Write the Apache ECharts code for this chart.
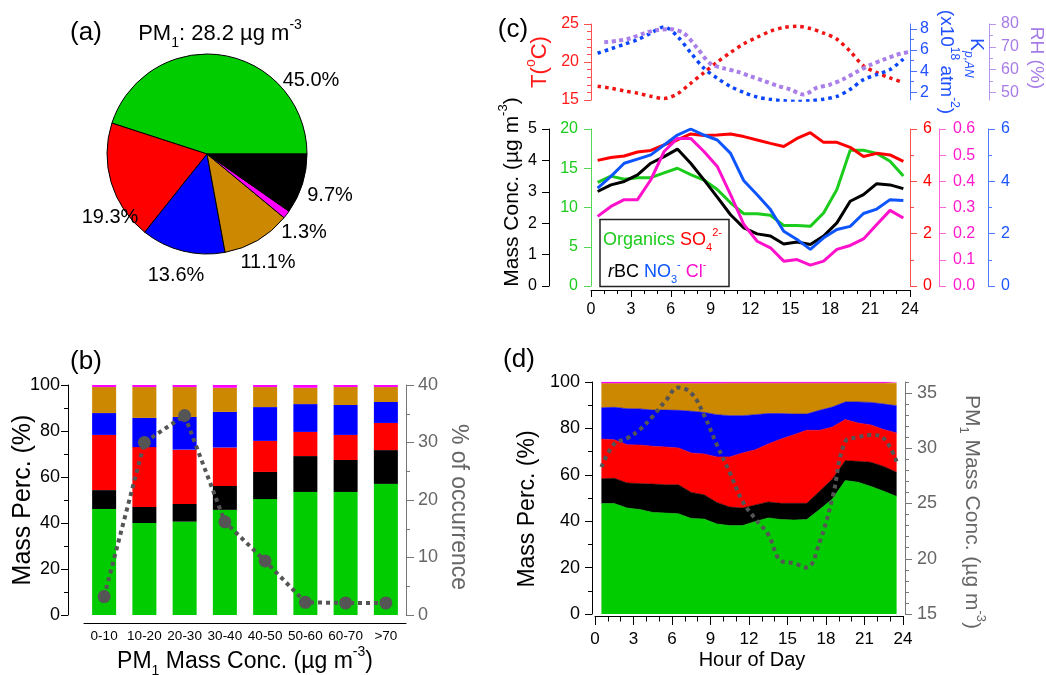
<!DOCTYPE html>
<html>
<head>
<meta charset="utf-8">
<title>PM1 composition and diurnal cycles</title>
<script src="https://cdn.jsdelivr.net/npm/echarts@6.0.0/dist/echarts.min.js"></script>
<style>
  html, body { margin: 0; padding: 0; background: #fff; }
  #chart { width: 1046px; height: 675px; }
</style>
</head>
<body>
<div id="chart"></div>
<script>
// (a) mean composition
const pm1Mean = 28.2
const pieSpecies = ['Organics', 'SO4', 'NO3', 'NH4', 'Cl', 'rBC']
const pieShare = [45.0, 19.3, 13.6, 11.1, 1.3, 9.7]

// (b) composition (%) per PM1 bin and frequency of occurrence
const pmBins = ['0-10', '10-20', '20-30', '30-40', '40-50', '50-60', '60-70', '>70']
const binOrg = [46.1, 40.0, 40.6, 45.7, 50.4, 53.5, 53.5, 57.0]
const binBC = [8.2, 7.0, 7.7, 10.4, 11.8, 15.6, 13.9, 14.7]
const binSO4 = [24.0, 26.0, 23.6, 16.7, 13.5, 10.5, 10.9, 11.8]
const binNO3 = [9.5, 12.7, 14.2, 15.5, 14.7, 12.1, 13.0, 9.1]
const binNH4 = [11.3, 13.4, 13.0, 10.5, 8.7, 7.1, 7.8, 6.5]
const binCl = [0.9, 1.3, 0.9, 1.2, 0.9, 1.6, 0.9, 0.9]
const binOccur = [3.2, 30.0, 34.7, 16.2, 9.4, 2.2, 2.1, 2.1]

// (c) diurnal cycles
const hours = [0.5, 1.5, 2.5, 3.5, 4.5, 5.5, 6.5, 7.5, 8.5, 9.5, 10.5, 11.5,
  12.5, 13.5, 14.5, 15.5, 16.5, 17.5, 18.5, 19.5, 20.5, 21.5, 22.5, 23.5]
const rhHours = [1, 2, 3, 4, 5, 6, 7, 8, 9, 10, 11, 12, 13, 14, 15, 16, 17, 18, 19, 20, 21, 22, 23, 24]
const tempC = [16.8, 16.55, 16.2, 15.9, 15.5, 15.2, 15.8, 17.2, 18.6, 20.0, 21.25, 22.4,
  23.25, 24.05, 24.55, 24.7, 24.4, 23.8, 23.0, 21.4, 19.5, 18.6, 17.9, 17.3]
const kpAN = [5.70, 6.12, 6.55, 6.98, 7.60, 8.20, 7.30, 5.75, 4.27, 3.33, 2.55, 1.98,
  1.55, 1.33, 1.20, 1.12, 1.20, 1.35, 1.62, 2.28, 3.20, 3.68, 4.15, 5.15]
const rh = [72.0, 72.6, 73.8, 75.9, 77.4, 77.7, 75.9, 69.3, 62.5, 60.5, 59.1, 57.0,
  55.0, 52.9, 51.2, 49.0, 52.0, 53.4, 55.8, 59.0, 62.0, 64.3, 66.5, 67.8]
const orgConc = [13.2, 14.0, 13.6, 13.8, 13.8, 14.4, 15.0, 14.2, 13.5, 12.3, 10.6, 9.2,
  9.2, 9.0, 7.7, 7.7, 7.6, 9.3, 12.3, 17.3, 17.3, 16.9, 15.9, 14.0]
const so4Conc = [4.80, 4.91, 4.97, 5.12, 5.18, 5.39, 5.58, 5.81, 5.75, 5.77, 5.81, 5.71,
  5.58, 5.45, 5.33, 5.64, 5.86, 5.49, 5.49, 5.30, 4.95, 5.07, 5.01, 4.76]
const bcConc = [3.01, 3.22, 3.33, 3.54, 3.91, 4.12, 4.36, 3.91, 3.38, 2.83, 2.27, 1.85,
  1.66, 1.59, 1.34, 1.40, 1.32, 1.59, 2.01, 2.70, 2.91, 3.26, 3.22, 3.10]
const no3Conc = [3.74, 4.19, 4.69, 4.85, 5.01, 5.39, 5.77, 6.00, 5.77, 5.58, 5.07, 4.02,
  3.49, 2.92, 2.09, 1.78, 1.40, 1.84, 2.16, 2.28, 2.77, 2.94, 3.30, 3.27]
const clConc = [0.266, 0.304, 0.330, 0.330, 0.406, 0.514, 0.564, 0.564, 0.514, 0.457, 0.349, 0.235,
  0.171, 0.146, 0.095, 0.101, 0.080, 0.095, 0.140, 0.155, 0.180, 0.235, 0.289, 0.260]

// (d) diurnal mass fractions (%) and PM1
const hOrg = [47.6, 47.6, 45.7, 45.0, 43.8, 43.5, 43.2, 41.2, 40.9, 38.8, 38.1, 38.1,
  39.9, 41.4, 40.7, 40.5, 40.7, 45.0, 49.6, 57.5, 56.8, 55.0, 52.9, 50.7]
const hBC = [10.7, 10.9, 10.8, 11.2, 12.2, 12.2, 12.5, 11.2, 10.5, 9.3, 8.0, 7.6,
  7.1, 6.9, 7.0, 7.2, 7.0, 7.9, 8.6, 8.6, 9.0, 10.4, 10.7, 10.4]
const hSO4 = [17.1, 16.6, 16.5, 16.6, 16.3, 16.3, 15.9, 17.0, 17.6, 19.6, 21.6, 23.7,
  23.8, 25.0, 27.7, 29.6, 31.5, 26.3, 22.4, 17.7, 16.5, 16.1, 15.9, 16.9]
const hNO3 = [13.5, 14.0, 15.5, 15.6, 15.6, 15.9, 16.2, 18.0, 17.9, 18.2, 17.8, 16.1,
  15.1, 13.1, 11.0, 8.9, 7.0, 8.6, 8.6, 7.6, 9.1, 9.7, 11.0, 11.8]
const hNH4 = [10.4, 10.2, 10.8, 10.9, 11.4, 11.4, 11.5, 12.0, 12.5, 13.5, 14.0, 14.0,
  13.6, 13.1, 13.1, 13.3, 13.3, 11.7, 10.3, 8.1, 8.1, 8.3, 9.0, 9.7]
const hCl = [0.7, 0.7, 0.7, 0.7, 0.7, 0.7, 0.7, 0.6, 0.6, 0.6, 0.5, 0.5,
  0.5, 0.5, 0.5, 0.5, 0.5, 0.5, 0.5, 0.5, 0.5, 0.5, 0.5, 0.5]
const hPM1 = [28.3, 30.4, 30.9, 31.7, 32.9, 34.3, 35.5, 35.0, 33.0, 30.3, 27.8, 25.2,
  23.6, 22.2, 19.8, 19.6, 19.2, 21.5, 25.5, 30.6, 31.0, 31.2, 30.9, 28.8]

const FF = 'Liberation Sans, Arial, Helvetica, sans-serif'
const col = { Organics: '#00cc00', SO4: '#ff0000', NO3: '#0000ff', NH4: '#cc8800', Cl: '#ff00ff', rBC: '#000000' }
const grey = '#555555'
const pieLabelAt = [[311, 80], [110, 217], [176, 275], [268, 262], [304, 232], [330, 195]]

const pts = (xs, ys) => xs.map((x, i) => [x, ys[i]])

const chart = echarts.init(document.getElementById('chart'), null, { renderer: 'canvas' })

// value axis helper, Igor-like outward ticks
function vAxis(grid, o) {
  const c = o.color || '#000'
  const lc = o.lineColor || c
  return {
    type: 'value', gridIndex: grid, min: o.min, max: o.max, interval: o.interval,
    position: o.pos || 'left', offset: o.offset || 0, show: o.show !== false,
    splitLine: { show: false },
    axisLine: { show: o.line !== false, onZero: false, lineStyle: { color: lc, width: 1 } },
    axisTick: { show: true, length: o.tick || 7, lineStyle: { color: lc }, customValues: o.ticks },
    minorTick: { show: !!o.minor, splitNumber: o.minor || 5, length: 4, lineStyle: { color: lc } },
    axisLabel: {
      show: o.label !== false, color: c, fontSize: o.fs || 16, fontFamily: FF,
      margin: o.margin || 10, customValues: o.labels, formatter: o.fmt
    }
  }
}

function hourAxis(grid, o) {
  return {
    type: 'value', gridIndex: grid, min: 0, max: 24, interval: 3, offset: o.offset,
    splitLine: { show: false },
    axisLine: { onZero: false, lineStyle: { color: '#000' } },
    axisTick: { length: o.tick || 7, lineStyle: { color: '#000' } },
    minorTick: { show: true, splitNumber: 3, length: o.minorLen || 4, lineStyle: { color: '#000' } },
    axisLabel: { fontSize: o.fs, fontFamily: FF, color: '#000', margin: o.margin }
  }
}

const yAxes = []
const Y = o => yAxes.push(o) - 1
const yBL = Y(vAxis(0, { min: 0, max: 100, interval: 20, minor: 2, offset: 16, fs: 18, margin: 8 }))
const yBR = Y(vAxis(0, { min: 0, max: 40, interval: 10, minor: 2, pos: 'right', fs: 18, color: '#666', lineColor: '#777', margin: 12, tick: 8 }))
const yT = Y(vAxis(1, { min: 15, max: 25, interval: 5, minor: 5, color: '#ff1a1a', lineColor: '#ff5050', margin: 12 }))
const yKp = Y(vAxis(1, { min: 1.27, max: 8.47, pos: 'right', ticks: [2, 4, 6, 8], labels: [2, 4, 6, 8], color: '#1f4fff', lineColor: '#4a74ff', margin: 10 }))
Y(vAxis(1, { min: 1.27, max: 8.47, pos: 'right', ticks: [3, 5, 7], tick: 4, line: false, label: false, lineColor: '#4a74ff' }))
const yRH = Y(vAxis(1, { min: 46.6, max: 80, pos: 'right', offset: 79, ticks: [50, 60, 70, 80], labels: [50, 60, 70, 80], color: '#a77be6', lineColor: '#b895ee', margin: 12 }))
Y(vAxis(1, { min: 46.6, max: 80, pos: 'right', offset: 79, ticks: [55, 65, 75], tick: 4, line: false, label: false, lineColor: '#b895ee' }))
const yOrg = Y(vAxis(2, { min: 0, max: 20, interval: 5, color: '#1ccc1c', lineColor: '#55d855', margin: 13 }))
const yBC = Y(vAxis(2, { min: 0, max: 5, interval: 1, offset: 42, margin: 12 }))
const ySO4 = Y(vAxis(2, { min: 0, max: 6, interval: 2, minor: 2, pos: 'right', color: '#ff0000', lineColor: '#ff5050', margin: 13 }))
const yCl = Y(vAxis(2, { min: 0, max: 0.6, interval: 0.1, pos: 'right', offset: 29, color: '#ff1acb', lineColor: '#ff66da', margin: 14, fmt: v => v.toFixed(1) }))
const yNO3 = Y(vAxis(2, { min: 0, max: 6, interval: 2, minor: 2, pos: 'right', offset: 78, color: '#1a56ff', lineColor: '#4d7cff', margin: 13 }))
const yDL = Y(vAxis(3, { min: 0, max: 100, interval: 20, minor: 2, offset: 3, fs: 18, margin: 12 }))
const yDR = Y(vAxis(3, { min: 15, max: 36, pos: 'right', offset: 2, ticks: [15, 20, 25, 30, 35], labels: [15, 20, 25, 30, 35], fs: 18, color: '#666', lineColor: '#777', margin: 12 }))
Y(vAxis(3, { min: 15, max: 36, interval: 1, pos: 'right', offset: 2, tick: 4, line: false, label: false, lineColor: '#777' }))
// hidden axis for the stacked areas of (d), spanning the 0.5 .. 23.5 h samples
const yDA = Y(vAxis(4, { min: 0, max: 100, show: false }))

const xAxes = [
  {
    type: 'category', gridIndex: 0, data: pmBins, offset: 8,
    splitLine: { show: false },
    axisLine: { onZero: false, lineStyle: { color: '#000' } },
    axisTick: { length: 7, interval: 0, alignWithLabel: false, lineStyle: { color: '#000' } },
    axisLabel: { interval: 0, fontSize: 13.5, fontFamily: FF, color: '#000', margin: 6 }
  },
  { type: 'value', gridIndex: 1, min: 0, max: 24, show: false },
  hourAxis(2, { offset: 4, fs: 16, margin: 12 }),
  hourAxis(3, { offset: 2, fs: 17, margin: 15, tick: 9, minorLen: 5.5 }),
  { type: 'category', gridIndex: 4, data: hours, boundaryGap: false, show: false }
]

const series = []

// (a)
series.push({
  type: 'pie', center: [207, 154], radius: 100, startAngle: 0, clockwise: false,
  avoidLabelOverlap: false, silent: true,
  data: pieSpecies.map((n, i) => ({ name: n, value: pieShare[i], itemStyle: { color: col[n] } })),
  itemStyle: { borderColor: '#000', borderWidth: 1 },
  label: { position: 'outside', formatter: p => p.value.toFixed(1) + '%', fontSize: 20, fontFamily: FF, color: '#000' },
  labelLine: { show: false },
  labelLayout: p => ({ x: pieLabelAt[p.dataIndex][0], y: pieLabelAt[p.dataIndex][1], align: 'center', verticalAlign: 'middle' }),
  emphasis: { disabled: true }
})

// (b)
const binStack = [['Organics', binOrg], ['rBC', binBC], ['SO4', binSO4], ['NO3', binNO3], ['NH4', binNH4], ['Cl', binCl]]
binStack.forEach(([name, vals]) => {
  series.push({
    type: 'bar', name, xAxisIndex: 0, yAxisIndex: yBL, stack: 'bin', barWidth: 24,
    data: vals, itemStyle: { color: col[name] }, silent: true
  })
})
series.push({
  type: 'line', name: 'occurrence', xAxisIndex: 0, yAxisIndex: yBR, data: binOccur, z: 5,
  symbol: 'circle', symbolSize: 13, itemStyle: { color: grey },
  lineStyle: { color: grey, width: 4, type: [4, 4] }, silent: true
})

// (c) meteorology
const dotted = (name, xs, ys, yi, color, w, dash) => ({
  type: 'line', name, xAxisIndex: 1, yAxisIndex: yi, data: pts(xs, ys),
  showSymbol: false, symbol: 'none', smooth: 0.3, silent: true,
  lineStyle: { color, width: w, type: dash }
})
series.push(dotted('T', hours, tempC, yT, '#f01414', 3.5, [3.5, 4]))
series.push(dotted('Kp,AN', hours, kpAN, yKp, '#0b46ff', 3.5, [3.5, 4]))
series.push(dotted('RH', rhHours, rh, yRH, '#a97fe8', 4, [4, 3.5]))

// (c) species
const solid = (name, ys, yi, color) => ({
  type: 'line', name, xAxisIndex: 2, yAxisIndex: yi, data: pts(hours, ys),
  showSymbol: false, symbol: 'none', silent: true,
  lineStyle: { color, width: 3 }
})
series.push(solid('Organics', orgConc, yOrg, '#1ccc1c'))
series.push(solid('SO4', so4Conc, ySO4, '#ff0000'))
series.push(solid('rBC', bcConc, yBC, '#000000'))
series.push(solid('NO3', no3Conc, yNO3, '#0d55ff'))
series.push(solid('Cl', clConc, yCl, '#ff11cc'))

// (d)
const hourStack = [['Organics', hOrg], ['rBC', hBC], ['SO4', hSO4], ['NO3', hNO3], ['NH4', hNH4], ['Cl', hCl]]
hourStack.forEach(([name, vals]) => {
  series.push({
    type: 'line', name, xAxisIndex: 4, yAxisIndex: yDA, stack: 'hour', data: vals,
    showSymbol: false, symbol: 'none', silent: true,
    lineStyle: { width: 0.6, color: col[name] }, areaStyle: { color: col[name], opacity: 1 }
  })
})
series.push({
  type: 'line', name: 'PM1', xAxisIndex: 3, yAxisIndex: yDR, data: pts(hours, hPM1), z: 5,
  showSymbol: false, symbol: 'none', smooth: 0.4, silent: true,
  lineStyle: { color: grey, width: 4, type: [4, 4] }
})

// text helpers (rich text for sub/superscripts)
function richFor(size, color) {
  const s = Math.round(size * 0.62)
  return {
    sub: { fontSize: s, fontFamily: FF, fill: color, verticalAlign: 'bottom', lineHeight: s },
    subi: { fontSize: s, fontFamily: FF, fill: color, fontStyle: 'italic', verticalAlign: 'bottom', lineHeight: s },
    sup: { fontSize: s, fontFamily: FF, fill: color, verticalAlign: 'top', lineHeight: s }
  }
}
function txt(x, y, text, size, color, rot, extra) {
  return {
    type: 'text', x, y, rotation: rot || 0, z: 100, silent: true,
    style: Object.assign({
      text, fill: color, fontSize: size, fontFamily: FF, lineHeight: Math.round(size * 1.45),
      align: 'center', verticalAlign: 'middle', rich: richFor(size, color)
    }, extra || {})
  }
}

const lgSize = 18
const lgRich = {}
;[['g', '#1ccc1c'], ['r', '#ff0000'], ['k', '#000000'], ['b', '#0d55ff'], ['m', '#ff11cc']].forEach(([k, c]) => {
  const s = Math.round(lgSize * 0.62)
  lgRich[k] = { fontSize: lgSize, fontFamily: FF, fill: c, lineHeight: 26 }
  lgRich[k + 'i'] = { fontSize: lgSize, fontFamily: FF, fill: c, fontStyle: 'italic', lineHeight: 26 }
  lgRich[k + 'sub'] = { fontSize: s, fontFamily: FF, fill: c, verticalAlign: 'bottom', lineHeight: s }
  lgRich[k + 'sup'] = { fontSize: s, fontFamily: FF, fill: c, verticalAlign: 'top', lineHeight: s }
})

const graphic = [
  txt(86, 33, '(a)', 26, '#000'),
  txt(86, 362, '(b)', 26, '#000'),
  txt(513, 30, '(c)', 26, '#000'),
  txt(519, 360, '(d)', 26, '#000'),
  txt(220, 34, 'PM{sub|1}: ' + pm1Mean.toFixed(1) + ' µg m{sup|-3}', 22, '#000'),
  txt(23, 500, 'Mass Perc. (%)', 25, '#000', Math.PI / 2),
  txt(458, 507, '% of occurrence', 23, '#666', -Math.PI / 2),
  txt(245, 662, 'PM{sub|1} Mass Conc. (µg m{sup|-3})', 23, '#000'),
  txt(540, 62, 'T({sup|o}C)', 22, '#ff1a1a', Math.PI / 2),
  txt(976, 58, 'K{subi|p,AN}', 19, '#1f4fff', -Math.PI / 2),
  txt(946, 62, '(x10{sup|18} atm{sup|-2})', 19, '#1f4fff', -Math.PI / 2),
  txt(1036, 58, 'RH (%)', 19, '#a77be6', -Math.PI / 2),
  txt(512, 192, 'Mass Conc. (µg m{sup|-3})', 21, '#000', Math.PI / 2),
  txt(528, 509, 'Mass Perc. (%)', 23, '#000', Math.PI / 2),
  txt(972, 512, 'PM{sub|1} Mass Conc. (µg m{sup|-3})', 21, '#666', -Math.PI / 2),
  txt(752, 660, 'Hour of Day', 20, '#000'),
  {
    type: 'rect', z: 90, silent: true,
    shape: { x: 600, y: 219.5, width: 129, height: 67 },
    style: { fill: '#fff', stroke: '#222', lineWidth: 1.5 }
  },
  {
    type: 'text', x: 603, y: 240, z: 100, silent: true,
    style: {
      text: '{g|Organics} {r|SO}{rsub|4}{rsup|2-}', align: 'left', verticalAlign: 'middle',
      fontSize: lgSize, fontFamily: FF, lineHeight: 26, rich: lgRich
    }
  },
  {
    type: 'text', x: 608, y: 272, z: 100, silent: true,
    style: {
      text: '{ki|r}{k|BC} {b|NO}{bsub|3}{bsup|-} {m|Cl}{msup|-}', align: 'left', verticalAlign: 'middle',
      fontSize: lgSize, fontFamily: FF, lineHeight: 26, rich: lgRich
    }
  }
]

const option = {
  animation: false,
  backgroundColor: '#fff',
  grid: [
    { left: 84, top: 385, width: 322, height: 230 },
    { left: 591, top: 24, width: 319, height: 76 },
    { left: 591, top: 129, width: 319, height: 157 },
    { left: 595, top: 382, width: 308, height: 232 },
    { left: 601.4, top: 382, width: 295.2, height: 232 }
  ].map(g => Object.assign({ outerBoundsMode: 'none', containLabel: false }, g)),
  xAxis: xAxes,
  yAxis: yAxes,
  series,
  graphic
}

chart.setOption(option)
</script>
</body>
</html>
